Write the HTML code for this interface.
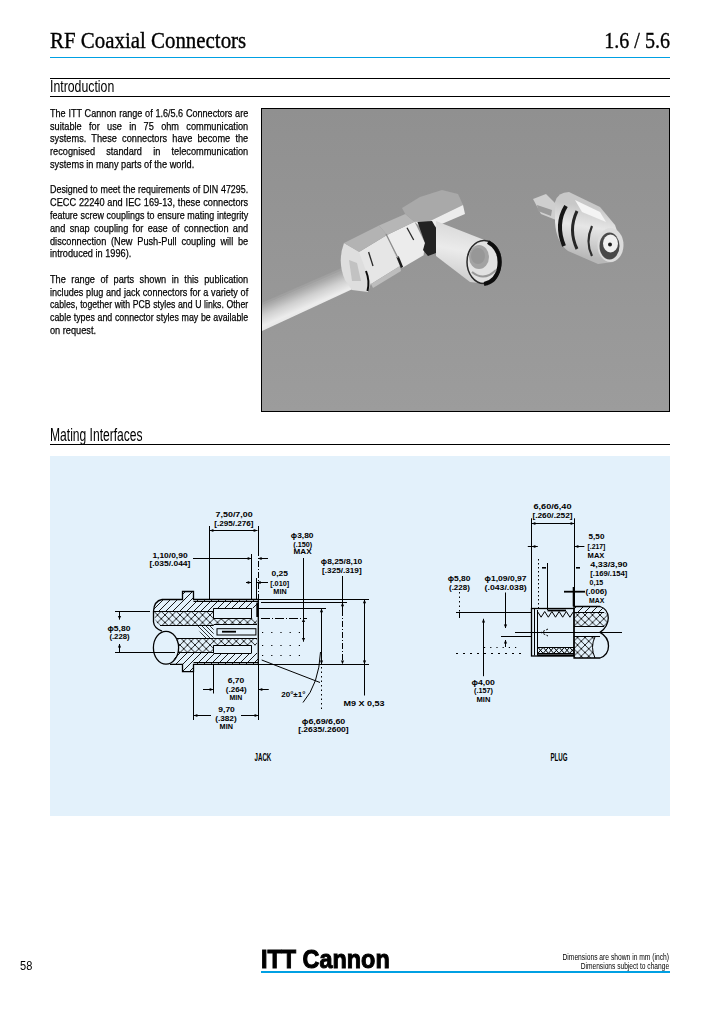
<!DOCTYPE html>
<html><head><meta charset="utf-8"><title>RF Coaxial Connectors 1.6/5.6</title>
<style>
*{margin:0;padding:0;box-sizing:border-box}
html,body{width:720px;height:1012px;background:#fff;overflow:hidden}
body{position:relative;font-family:"Liberation Sans",sans-serif;color:#000}
.a{position:absolute}
.bl{position:absolute;left:50px;width:247.75px;font-size:11.5px;line-height:12.77px;white-space:nowrap;transform:scaleX(0.8);transform-origin:0 0;-webkit-text-stroke:0.25px #000}
.bl.j{text-align:justify;text-align-last:justify}
.hr{position:absolute;height:1px;background:#000}
</style></head>
<body>
<div class="a" style="left:50px;top:27.57px;font-family:'Liberation Serif',serif;font-size:22.6px;line-height:26px;white-space:nowrap;transform:scaleX(0.925);transform-origin:0 0;-webkit-text-stroke:0.35px #000">RF Coaxial Connectors</div>
<div class="a" style="right:50px;top:27.57px;font-family:'Liberation Serif',serif;font-size:22.6px;line-height:26px;white-space:nowrap;transform:scaleX(0.89);transform-origin:100% 0;-webkit-text-stroke:0.35px #000">1.6 / 5.6</div>
<div class="hr" style="left:50px;top:57px;width:620px;background:#00a0e3"></div>
<div class="hr" style="left:50px;top:78px;width:620px"></div>
<div class="a" style="left:50px;top:77.48px;font-size:16.5px;line-height:18px;white-space:nowrap;transform:scaleX(0.745);transform-origin:0 0">Introduction</div>
<div class="hr" style="left:50px;top:96px;width:620px"></div>
<div class="bl j" style="top:106.83px;width:251.31px;transform:scaleX(0.7887);">The ITT Cannon range of 1.6/5.6 Connectors are</div>
<div class="bl j" style="top:119.60px;">suitable for use in 75 ohm communication</div>
<div class="bl j" style="top:132.37px;">systems. These connectors have become the</div>
<div class="bl j" style="top:145.14px;">recognised standard in telecommunication</div>
<div class="bl" style="top:157.91px;">systems in many parts of the world.</div>
<div class="bl j" style="top:183.45px;width:255.78px;transform:scaleX(0.7749);">Designed to meet the requirements of DIN 47295.</div>
<div class="bl j" style="top:196.22px;">CECC 22240 and IEC 169-13, these connectors</div>
<div class="bl j" style="top:208.99px;width:255.13px;transform:scaleX(0.7769);">feature screw couplings to ensure mating integrity</div>
<div class="bl j" style="top:221.76px;">and snap coupling for ease of connection and</div>
<div class="bl j" style="top:234.53px;">disconnection (New Push-Pull coupling will be</div>
<div class="bl" style="top:247.30px;">introduced in 1996).</div>
<div class="bl j" style="top:272.84px;">The range of parts shown in this publication</div>
<div class="bl j" style="top:285.61px;width:250.67px;transform:scaleX(0.7907);">includes plug and jack connectors for a variety of</div>
<div class="bl j" style="top:298.38px;width:262.14px;transform:scaleX(0.7561);">cables, together with PCB styles and U links. Other</div>
<div class="bl j" style="top:311.15px;width:258.34px;transform:scaleX(0.7672);">cable types and connector styles may be available</div>
<div class="bl" style="top:323.92px;">on request.</div>
<div class="a" style="left:261px;top:108px;width:409px;height:304px;border:1px solid #000;background:#939393"></div>
<svg class="a" style="left:262px;top:109px" width="407" height="302" viewBox="262 109 407 302">
<defs>
<linearGradient id="bg" x1="0" y1="0" x2="0" y2="1"><stop offset="0" stop-color="#909090"/><stop offset="1" stop-color="#9c9c9c"/></linearGradient>
<linearGradient id="cab" gradientUnits="userSpaceOnUse" x1="300" y1="290" x2="312" y2="318"><stop offset="0" stop-color="#a8a8a8"/><stop offset="0.3" stop-color="#d0d0d0"/><stop offset="0.6" stop-color="#ececec"/><stop offset="1" stop-color="#dedede"/></linearGradient>
<linearGradient id="body" gradientUnits="userSpaceOnUse" x1="375" y1="225" x2="395" y2="275"><stop offset="0" stop-color="#b8b8b8"/><stop offset="0.35" stop-color="#c8c8c8"/><stop offset="0.45" stop-color="#ececec"/><stop offset="0.85" stop-color="#e4e4e4"/><stop offset="1" stop-color="#b0b0b0"/></linearGradient>
<linearGradient id="nut" gradientUnits="userSpaceOnUse" x1="455" y1="222" x2="445" y2="275"><stop offset="0" stop-color="#d8d8d8"/><stop offset="0.5" stop-color="#ebebeb"/><stop offset="1" stop-color="#d0d0d0"/></linearGradient>
<linearGradient id="jk" gradientUnits="userSpaceOnUse" x1="580" y1="205" x2="572" y2="255"><stop offset="0" stop-color="#c8c8c8"/><stop offset="0.4" stop-color="#e6e6e6"/><stop offset="1" stop-color="#b8b8b8"/></linearGradient>
<filter id="bl" x="-10%" y="-10%" width="120%" height="120%"><feGaussianBlur stdDeviation="0.55"/></filter>
</defs>
<rect x="262" y="109" width="407" height="302" fill="url(#bg)"/>
<g filter="url(#bl)"><path d="M262,304 L349,266 L357,287 L262,331 Z" fill="url(#cab)"/><path d="M262,304 L349,266" stroke="#a0a0a0" stroke-width="2" fill="none"/><path d="M344,243 Q337,262 345,280 L352,290 L368,292 L372,280 L360,252 Z" fill="#dedede"/><path d="M349,260 L357,263 L361,281 L352,281 Z" fill="#c2c2c2"/><path d="M359,252 L387,235 L400,266 L371,284 Z" fill="#e6e6e6"/><path d="M344,243 L379,225.5 L387,235 L359,252 Z" fill="#b3b3b3"/><path d="M371,284 L400,266 L401,271 L373,288 Z" fill="#bdbdbd"/><path d="M387,235 L414.5,221.7 L425,243 L423.6,255.3 L402,268 L400,266 Z" fill="#ececec"/><path d="M379,225.5 L405.3,214 L414.5,221.7 L387,235 Z" fill="#b6b6b6"/><path d="M397.6,256.8 L402,267.5" stroke="#1a1a1a" stroke-width="2.5" fill="none"/><path d="M386,234 L398,258" stroke="#8a8a8a" stroke-width="1.2" fill="none"/><path d="M368.6,252 L373,266" stroke="#2a2a2a" stroke-width="1.3" fill="none"/><path d="M407,227.8 L413.7,240" stroke="#2a2a2a" stroke-width="1.3" fill="none"/><path d="M366,271 Q370,281 367.5,291" stroke="#111" stroke-width="2" fill="none"/><path d="M402,208 L420,197 L442,190 L458,194 L463,205 L428,222 L414.5,221.7 L405.3,214 Z" fill="#a9a9a9"/><path d="M414.5,221.7 L428,222 L463,205 L465,214 L430,229 L423.6,230 Z" fill="#ececec"/><path d="M417.5,222 L432,221 L436,228 L436,253 L428,256 L423,250 L425,243 Z" fill="#202020"/><path d="M436,221 L487,241 L484,283.5 L470,282 L436,256 Z" fill="url(#nut)"/><ellipse cx="484" cy="262" rx="17" ry="21.5" fill="#e2e2e2" stroke="#2a2a2a" stroke-width="1.5"/><path d="M488,242 Q502,250 499,268 Q496,282 484,284" stroke="#111" stroke-width="4" fill="none"/><ellipse cx="479" cy="257" rx="10" ry="12" fill="#a3a3a3"/><ellipse cx="478" cy="256" rx="7" ry="8" fill="#979797"/><path d="M472,272 Q484,282 496,270" stroke="#9a9a9a" stroke-width="2" fill="none"/><path d="M533,199 L546,194 L558,206 L556,220 L541,214 Z" fill="#cfcfcf"/><path d="M537,205 L552,210 L551,216 L538,211 Z" fill="#9a9a9a"/><path d="M555,202 Q558,192 569,192 L600,207 L615,225 L622,245 L613,262 L598,264 L568,251 Q556,242 555,222 Z" fill="url(#jk)"/><path d="M575,200 L600,212 L606,222 L582,212 Z" fill="#f4f4f4"/><path d="M566,206 Q555,224 564,246" fill="none" stroke="#161616" stroke-width="4"/><path d="M577,211 Q568,230 577,249" fill="none" stroke="#262626" stroke-width="3"/><path d="M592,226 Q585,242 592,256" fill="none" stroke="#2e2e2e" stroke-width="2.2"/><ellipse cx="610.5" cy="245" rx="13" ry="17" fill="#dcdcdc"/><ellipse cx="609.5" cy="246" rx="10" ry="13.5" fill="#4a4a4a"/><ellipse cx="610.5" cy="243.5" rx="7.5" ry="9" fill="#f0f0f0"/><circle cx="610" cy="244.5" r="2" fill="#1e1e1e"/></g>
</svg>
<div class="a" style="left:50px;top:424.64px;font-size:17.5px;line-height:20px;white-space:nowrap;transform:scaleX(0.69);transform-origin:0 0">Mating Interfaces</div>
<div class="hr" style="left:50px;top:444px;width:620px"></div>
<div class="a" style="left:50px;top:456px;width:620px;height:360px;background:#e3f1fb"></div>
<svg class="a" style="left:0;top:0" width="720" height="1012" viewBox="0 0 720 1012">
<defs>
<pattern id="ht" patternUnits="userSpaceOnUse" width="7" height="7"><path d="M-1,8 L8,-1 M-1,1 L1,-1 M6,8 L8,6" stroke="#000" stroke-width="0.9"/></pattern>
<pattern id="xh" patternUnits="userSpaceOnUse" width="7.5" height="7.5"><path d="M-1,8.5 L8.5,-1 M-1,-1 L8.5,8.5" stroke="#000" stroke-width="0.85"/></pattern>
<pattern id="xs" patternUnits="userSpaceOnUse" width="6" height="6"><path d="M-1,7 L7,-1 M-1,-1 L7,7" stroke="#000" stroke-width="0.8"/></pattern>
<pattern id="bh" patternUnits="userSpaceOnUse" width="4" height="4"><path d="M-1,-1 L5,5 M-1,3 L1,5 M3,-1 L5,1" stroke="#000" stroke-width="0.8"/></pattern>
</defs>
<style>.d{stroke:#000;stroke-width:1;fill:none}.t{stroke:#000;stroke-width:1.4;fill:none}.o{stroke:#000;stroke-width:1.3;fill:none}.dd{stroke:#000;stroke-width:1;fill:none;stroke-dasharray:6 2 1 2}.dt{stroke:#000;stroke-width:1;fill:none;stroke-dasharray:1 5}text{font-family:"Liberation Sans",sans-serif;font-weight:bold;font-size:7px}</style>
<path d="M162,599.5 Q154,601 153.5,611.2 L213.6,611.2 L213.6,608.3 L258.3,608.3 L258.3,599.5 L193.5,599.5 L193.5,591.5 L182.5,591.5 L182.5,599.5 Z" fill="url(#ht)"/>
<path d="M170,664.4 L182.5,664.4 L182.5,671.7 L193.5,671.7 L193.5,664.4 L258.3,664.4 L258.3,653 L213.6,653 L213.6,652.6 L176,652.6 Q175,660 170,664.4 Z" fill="url(#ht)"/>
<path d="M153.5,611.2 L213.6,611.2 L213.6,618 L257,618 L257,624.8 L213.6,624.8 L213.6,625.4 L160,625.4 Q154,622 153.5,611.2 Z" fill="url(#xh)"/>
<path d="M176,638.8 L213.6,638.8 L213.6,638.5 L257,638.5 L257,645.3 L213.6,645.3 L213.6,652.6 L178.5,652.6 Q179,645 176,638.8 Z" fill="url(#xh)"/>
<path d="M196,625.4 L213.6,625.4 L213.6,638.8 L204,638.8 Z" fill="url(#bh)"/>
<path class="o" d="M162,599.5 L182.5,599.5 L182.5,591.5 L193.5,591.5 L193.5,599.5 L258.3,599.5 L258.3,664.4 L193.5,664.4 L193.5,671.7 L182.5,671.7 L182.5,664.4 L170,664.4"/>
<path class="o" d="M162,599.5 Q154,601 153.5,611.2 L153.5,622 Q154,628 162,631.2"/>
<ellipse class="o" cx="166" cy="647.8" rx="12.6" ry="16.4"/>
<line class="d" x1="153.5" y1="611.5" x2="213.6" y2="611.5"/>
<line class="d" x1="160" y1="625.5" x2="213.6" y2="625.5"/>
<line class="d" x1="176" y1="638.5" x2="213.6" y2="638.5"/>
<line class="d" x1="178" y1="652.5" x2="213.6" y2="652.5"/>
<line class="d" x1="213.5" y1="608.3" x2="213.5" y2="618"/>
<line class="d" x1="213.5" y1="645.3" x2="213.5" y2="653"/>
<line class="d" x1="193.5" y1="601.5" x2="258" y2="601.5"/>
<line class="d" x1="213.6" y1="608.5" x2="251.5" y2="608.5"/>
<line class="d" x1="213.6" y1="618.5" x2="251.5" y2="618.5"/>
<line class="d" x1="251.5" y1="608.3" x2="251.5" y2="618"/>
<line class="d" x1="251.5" y1="645.3" x2="251.5" y2="653"/>
<line class="d" x1="213.6" y1="645.5" x2="251.5" y2="645.5"/>
<line class="d" x1="213.6" y1="653.5" x2="251.5" y2="653.5"/>
<line class="d" x1="213.6" y1="624.5" x2="257" y2="624.5"/>
<line class="d" x1="213.6" y1="638.5" x2="257" y2="638.5"/>
<rect x="217" y="628.7" width="38.9" height="6.3" fill="#e3f1fb" stroke="#000" stroke-width="1"/>
<rect x="222" y="630.8" width="14" height="1.8" fill="#000"/>
<rect x="256.3" y="602.5" width="1.8" height="14.5" fill="#000"/>
<line class="d" x1="193.5" y1="662.5" x2="258" y2="662.5"/>
<line class="d" x1="115" y1="611.5" x2="150" y2="611.5"/>
<line class="d" x1="115" y1="652.5" x2="175" y2="652.5"/>
<line class="d" x1="119.5" y1="611.5" x2="119.5" y2="619.6"/>
<polygon points="119.50,619.60 117.90,616.00 121.10,616.00"/>
<line class="d" x1="119.5" y1="644" x2="119.5" y2="652.5"/>
<polygon points="119.50,644.00 117.90,647.60 121.10,647.60"/>
<line class="d" x1="209.5" y1="526" x2="209.5" y2="599.5"/>
<line class="d" x1="258.5" y1="526" x2="258.5" y2="550"/>
<line class="dd" x1="258.5" y1="550" x2="258.5" y2="599.5"/>
<line class="d" x1="209.5" y1="530.5" x2="257.5" y2="530.5"/>
<polygon points="209.80,530.50 213.40,528.90 213.40,532.10"/>
<polygon points="257.20,530.50 253.60,528.90 253.60,532.10"/>
<line class="d" x1="193" y1="558.5" x2="251.3" y2="558.5"/>
<polygon points="251.30,558.50 247.70,556.90 247.70,560.10"/>
<line class="d" x1="251.5" y1="554" x2="251.5" y2="599.5"/>
<line class="d" x1="258" y1="558.5" x2="268" y2="558.5"/>
<polygon points="258.00,558.50 261.60,556.90 261.60,560.10"/>
<line class="d" x1="246" y1="582.5" x2="251.3" y2="582.5"/>
<polygon points="251.30,582.50 247.70,580.90 247.70,584.10"/>
<line class="d" x1="257" y1="582.5" x2="268" y2="582.5"/>
<polygon points="257.00,582.50 260.60,580.90 260.60,584.10"/>
<line class="d" x1="256.5" y1="578" x2="256.5" y2="599.5"/>
<line class="d" x1="303.5" y1="558" x2="303.5" y2="641.7"/>
<polygon points="303.50,618.50 301.90,622.10 305.10,622.10"/>
<polygon points="303.50,641.50 301.90,637.90 305.10,637.90"/>
<line class="d" x1="321.5" y1="608.5" x2="321.5" y2="664.4"/>
<polygon points="321.50,608.60 319.90,612.20 323.10,612.20"/>
<polygon points="321.50,664.20 319.90,660.60 323.10,660.60"/>
<line class="dt" x1="321.5" y1="667" x2="321.5" y2="710" style="stroke-dasharray:1.5 3"/>
<line class="d" x1="342.5" y1="576" x2="342.5" y2="610"/>
<line class="dd" x1="342.5" y1="610" x2="342.5" y2="664"/>
<polygon points="342.50,602.60 340.90,606.20 344.10,606.20"/>
<polygon points="342.50,664.20 340.90,660.60 344.10,660.60"/>
<line class="d" x1="364.5" y1="599.5" x2="364.5" y2="695.5"/>
<polygon points="364.50,599.60 362.90,603.20 366.10,603.20"/>
<polygon points="364.50,664.20 362.90,660.60 366.10,660.60"/>
<line class="d" x1="258" y1="599.5" x2="369" y2="599.5"/>
<line class="d" x1="258" y1="664.5" x2="369" y2="664.5"/>
<line class="d" x1="261" y1="602.5" x2="347" y2="602.5"/>
<line class="d" x1="258" y1="608.5" x2="326" y2="608.5"/>
<line class="dd" x1="261" y1="618.5" x2="307" y2="618.5" style="stroke-dasharray:9 2 1 2"/>
<line class="dt" x1="262" y1="632.5" x2="305" y2="632.5" style="stroke-dasharray:1.2 8"/>
<line class="dt" x1="262" y1="645.5" x2="305" y2="645.5" style="stroke-dasharray:1.2 8"/>
<line class="dt" x1="262" y1="655.5" x2="305" y2="655.5" style="stroke-dasharray:1.2 8"/>
<line class="d" x1="261.7" y1="660" x2="320" y2="682.5"/>
<path class="d" d="M320.5,652 Q319,684 303,702.5"/>
<line class="d" x1="193.5" y1="672" x2="193.5" y2="720"/>
<line class="d" x1="213.5" y1="664.5" x2="213.5" y2="693.5"/>
<line class="d" x1="258.5" y1="664.5" x2="258.5" y2="720"/>
<line class="d" x1="203" y1="689.5" x2="213.3" y2="689.5"/>
<polygon points="213.30,689.50 209.70,687.90 209.70,691.10"/>
<line class="d" x1="258.7" y1="689.5" x2="268.75" y2="689.5"/>
<polygon points="258.70,689.50 262.30,687.90 262.30,691.10"/>
<line class="d" x1="193.5" y1="715.5" x2="211" y2="715.5"/>
<line class="d" x1="241" y1="715.5" x2="258.5" y2="715.5"/>
<polygon points="193.80,715.50 197.40,713.90 197.40,717.10"/>
<polygon points="258.20,715.50 254.60,713.90 254.60,717.10"/>
<path d="M574,612 L604,612 Q608.3,615 608.3,619 Q608,624 604,626.8 L574,626.8 Z" fill="url(#xh)"/>
<path d="M574,606.5 L600,606.5 Q604,608 604.5,612 L574,612 Z" fill="url(#ht)"/>
<line class="d" x1="574" y1="612.5" x2="604" y2="612.5"/>
<path d="M574,636.8 L595,636.8 Q590,647 595,658 L574,658 Z" fill="url(#xh)"/>
<path class="o" d="M574,606.5 L600,606.5 Q608,609 608.3,618 Q608,627 600,632.4 Q608.5,637 608.5,646 Q608.5,655 600,658 L574,658 Z"/>
<path class="d" d="M595,636.8 Q590,647 595,658"/>
<line class="d" x1="574" y1="626.5" x2="604" y2="626.5"/>
<line class="d" x1="574" y1="636.5" x2="600" y2="636.5"/>
<rect x="531.5" y="608.5" width="42.5" height="47.5" fill="none" stroke="#000" stroke-width="1.3"/>
<line class="d" x1="534.5" y1="609" x2="534.5" y2="655.5"/>
<line class="d" x1="537.5" y1="610" x2="537.5" y2="655.5"/>
<rect x="547.5" y="609.6" width="18.5" height="1.8" fill="#000"/>
<path class="d" d="M537.5,611.5 L541.1,617.2 L544.7,611.5 L548.3,617.2 L551.9,611.5 L555.5,617.2 L559.1,611.5 L562.7,617.2 L566.3,611.5 L569.9,617.2 L573.5,611.5 "/>
<path class="d" d="M538.0,647.5 L543.0,653.2 M543.0,647.5 L538.0,653.2 M543.3,647.5 L548.3,653.2 M548.3,647.5 L543.3,653.2 M548.6,647.5 L553.6,653.2 M553.6,647.5 L548.6,653.2 M553.9,647.5 L558.9,653.2 M558.9,647.5 L553.9,653.2 M559.2,647.5 L564.2,653.2 M564.2,647.5 L559.2,653.2 M564.5,647.5 L569.5,653.2 M569.5,647.5 L564.5,653.2 M569.8,647.5 L574.8,653.2 M574.8,647.5 L569.8,653.2 "/>
<line class="d" x1="537.5" y1="647.5" x2="574" y2="647.5"/>
<line class="d" x1="537.5" y1="653.5" x2="574" y2="653.5"/>
<rect x="537.5" y="654.3" width="36.5" height="1.8" fill="#000"/>
<line class="d" x1="515" y1="632.5" x2="622" y2="632.5"/>
<path class="d" d="M548,629 L541,632.5 L548,636" style="stroke-dasharray:2 1.5"/>
<line class="d" x1="531.5" y1="518.3" x2="531.5" y2="608.5"/>
<line class="d" x1="574.5" y1="518.3" x2="574.5" y2="606.5"/>
<line class="d" x1="531.5" y1="523.5" x2="574.5" y2="523.5"/>
<polygon points="531.80,523.50 535.40,521.90 535.40,525.10"/>
<polygon points="574.20,523.50 570.60,521.90 570.60,525.10"/>
<line class="d" x1="527.8" y1="546.5" x2="537.8" y2="546.5"/>
<polygon points="531.80,546.50 535.40,544.90 535.40,548.10"/>
<line class="d" x1="574.5" y1="546.5" x2="584.4" y2="546.5"/>
<polygon points="574.80,546.50 578.40,544.90 578.40,548.10"/>
<line class="dt" x1="538.5" y1="559" x2="538.5" y2="608" style="stroke-dasharray:1.5 2.5"/>
<line class="d" x1="547.5" y1="563" x2="547.5" y2="610"/>
<rect x="542" y="567" width="4" height="1.6" fill="#000"/>
<rect x="576" y="567" width="4" height="1.6" fill="#000"/>
<rect x="564" y="590.8" width="21" height="1.8" fill="#000"/>
<rect x="572.7" y="587" width="1.8" height="19.5" fill="#000"/>
<line class="d" x1="456" y1="612.5" x2="532" y2="612.5"/>
<line class="dt" x1="459.5" y1="592" x2="459.5" y2="612" style="stroke-dasharray:1.5 3"/>
<line class="d" x1="459.5" y1="613" x2="459.5" y2="618"/>
<line class="d" x1="505.5" y1="592.5" x2="505.5" y2="628"/>
<polygon points="505.50,628.00 503.90,624.40 507.10,624.40"/>
<line class="d" x1="505.5" y1="640" x2="505.5" y2="647"/>
<polygon points="505.50,640.00 503.90,643.60 507.10,643.60"/>
<line class="d" x1="501" y1="636.5" x2="532" y2="636.5"/>
<line class="d" x1="483.5" y1="618.8" x2="483.5" y2="676.2"/>
<polygon points="483.50,618.80 481.90,622.40 485.10,622.40"/>
<line class="dt" x1="484" y1="647.5" x2="520" y2="647.5" style="stroke-dasharray:1.2 5"/>
<line class="dt" x1="456" y1="653.5" x2="522" y2="653.5" style="stroke-dasharray:2 5"/>
<text x="215.60" y="516.60" textLength="37.05" lengthAdjust="spacingAndGlyphs">7,50/7,00</text>
<text x="214.35" y="525.60" textLength="39.15" lengthAdjust="spacingAndGlyphs">[.295/.276]</text>
<text x="152.40" y="558.00" textLength="35.20" lengthAdjust="spacingAndGlyphs">1,10/0,90</text>
<text x="149.40" y="566.40" textLength="41.00" lengthAdjust="spacingAndGlyphs">[.035/.044]</text>
<text x="290.85" y="537.90" textLength="22.65" lengthAdjust="spacingAndGlyphs">ϕ3,80</text>
<text x="293.35" y="546.90" textLength="18.95" lengthAdjust="spacingAndGlyphs">(.150)</text>
<text x="293.60" y="554.40" textLength="18.05" lengthAdjust="spacingAndGlyphs">MAX</text>
<text x="271.50" y="576.25" textLength="16.40" lengthAdjust="spacingAndGlyphs">0,25</text>
<text x="270.20" y="585.60" textLength="18.95" lengthAdjust="spacingAndGlyphs">[.010]</text>
<text x="273.35" y="593.75" textLength="13.30" lengthAdjust="spacingAndGlyphs">MIN</text>
<text x="320.85" y="564.00" textLength="41.45" lengthAdjust="spacingAndGlyphs">ϕ8,25/8,10</text>
<text x="322.10" y="572.75" textLength="39.55" lengthAdjust="spacingAndGlyphs">[.325/.319]</text>
<text x="107.50" y="630.50" textLength="22.90" lengthAdjust="spacingAndGlyphs">ϕ5,80</text>
<text x="109.40" y="638.75" textLength="20.20" lengthAdjust="spacingAndGlyphs">(.228)</text>
<text x="227.70" y="682.75" textLength="16.45" lengthAdjust="spacingAndGlyphs">6,70</text>
<text x="225.85" y="691.90" textLength="20.80" lengthAdjust="spacingAndGlyphs">(.264)</text>
<text x="229.60" y="700.00" textLength="12.70" lengthAdjust="spacingAndGlyphs">MIN</text>
<text x="218.35" y="711.50" textLength="16.45" lengthAdjust="spacingAndGlyphs">9,70</text>
<text x="215.20" y="721.25" textLength="21.45" lengthAdjust="spacingAndGlyphs">(.382)</text>
<text x="219.60" y="728.75" textLength="13.30" lengthAdjust="spacingAndGlyphs">MIN</text>
<text x="281.30" y="696.70" textLength="24.10" lengthAdjust="spacingAndGlyphs">20°±1°</text>
<text x="343.50" y="706.00" textLength="41.10" lengthAdjust="spacingAndGlyphs">M9 X 0,53</text>
<text x="301.80" y="723.75" textLength="43.50" lengthAdjust="spacingAndGlyphs">ϕ6,69/6,60</text>
<text x="298.20" y="732.40" textLength="50.50" lengthAdjust="spacingAndGlyphs">[.2635/.2600]</text>
<text x="533.50" y="508.90" textLength="38.00" lengthAdjust="spacingAndGlyphs">6,60/6,40</text>
<text x="532.40" y="517.80" textLength="40.20" lengthAdjust="spacingAndGlyphs">[.260/.252]</text>
<text x="588.60" y="539.40" textLength="15.80" lengthAdjust="spacingAndGlyphs">5,50</text>
<text x="587.60" y="548.90" textLength="17.80" lengthAdjust="spacingAndGlyphs">[.217]</text>
<text x="587.60" y="557.80" textLength="16.80" lengthAdjust="spacingAndGlyphs">MAX</text>
<text x="590.20" y="567.20" textLength="37.40" lengthAdjust="spacingAndGlyphs">4,33/3,90</text>
<text x="590.20" y="575.60" textLength="37.20" lengthAdjust="spacingAndGlyphs">[.169/.154]</text>
<text x="589.60" y="585.00" textLength="13.60" lengthAdjust="spacingAndGlyphs">0,15</text>
<text x="585.60" y="593.90" textLength="21.50" lengthAdjust="spacingAndGlyphs">(.006)</text>
<text x="589.00" y="602.80" textLength="15.30" lengthAdjust="spacingAndGlyphs">MAX</text>
<text x="447.70" y="581.00" textLength="22.70" lengthAdjust="spacingAndGlyphs">ϕ5,80</text>
<text x="449.00" y="589.75" textLength="20.80" lengthAdjust="spacingAndGlyphs">(.228)</text>
<text x="484.60" y="581.00" textLength="42.05" lengthAdjust="spacingAndGlyphs">ϕ1,09/0,97</text>
<text x="484.60" y="589.75" textLength="42.05" lengthAdjust="spacingAndGlyphs">(.043/.038)</text>
<text x="471.50" y="685.00" textLength="23.30" lengthAdjust="spacingAndGlyphs">ϕ4,00</text>
<text x="474.00" y="693.10" textLength="18.90" lengthAdjust="spacingAndGlyphs">(.157)</text>
<text x="476.50" y="701.90" textLength="13.90" lengthAdjust="spacingAndGlyphs">MIN</text>
<text x="254.5" y="760.5" textLength="16.8" lengthAdjust="spacingAndGlyphs" style="font-size:11px">JACK</text>
<text x="550.5" y="760.8" textLength="17" lengthAdjust="spacingAndGlyphs" style="font-size:11.5px">PLUG</text>
</svg>
<div class="a" style="left:20px;top:958.54px;font-size:12px;line-height:14px;transform:scaleX(0.92);transform-origin:0 0">58</div>
<div class="a" style="left:261px;top:943.79px;font-size:26px;line-height:30px;font-weight:bold;white-space:nowrap;transform:scaleX(0.9);transform-origin:0 0;-webkit-text-stroke:1px #000">ITT Cannon</div>
<div class="a" style="right:50.8px;top:951.68px;font-size:9px;line-height:10px;white-space:nowrap;transform:scaleX(0.745);transform-origin:100% 0">Dimensions are shown in mm (inch)</div>
<div class="a" style="right:50.5px;top:960.88px;font-size:9px;line-height:10px;white-space:nowrap;transform:scaleX(0.736);transform-origin:100% 0">Dimensions subject to change</div>
<div class="hr" style="left:261px;top:971px;width:409px;height:2px;background:#00a0e3"></div>
</body></html>
